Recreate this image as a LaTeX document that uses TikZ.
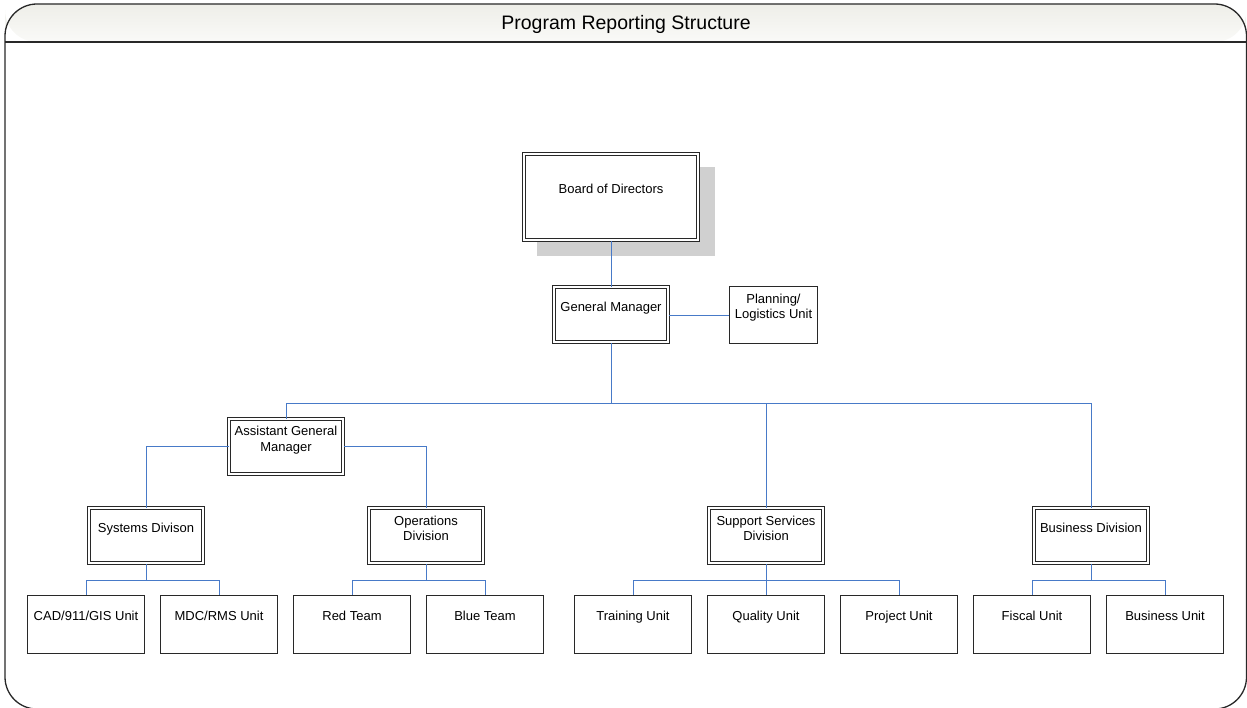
\documentclass[tikz,border=0pt]{standalone}
\usepackage{fontspec}
\setmainfont{Liberation Sans}
\usetikzlibrary{calc}
\definecolor{conn}{RGB}{72,122,200}
\definecolor{frame}{RGB}{40,40,40}
\definecolor{shadowgray}{RGB}{208,208,208}
\definecolor{headtop}{RGB}{238,238,232}
\definecolor{headbot}{RGB}{250,250,248}
\begin{document}
\begin{tikzpicture}[x=1pt,y=-1pt,
  dblbox/.style={draw=frame, fill=white, double=white, double distance=2pt, line width=1pt,
     minimum width=114pt, minimum height=55pt, inner sep=0pt},
  sglbox/.style={draw=frame, fill=white, line width=1.1pt, minimum width=117pt, minimum height=58pt, inner sep=0pt},
  txt/.style={inner sep=0pt, font=\fontsize{13}{15.5}\selectfont, align=center},
  link/.style={draw=conn, line width=1.45pt, transform canvas={xshift=0.5pt, yshift=-0.5pt}}
]
\useasboundingbox (0,0) rectangle (1247,708);
% frame
\shade[top color=headtop, bottom color=headbot, rounded corners=32pt]
  (5,42) -- (5,4) -- (1246.5,4) -- (1246.5,42) -- cycle;
\draw[frame, line width=1.3pt, rounded corners=32pt]
  (5,709) -- (5,4) -- (1246.5,4) -- (1246.5,709) -- cycle;
\draw[frame, line width=1.3pt] (5,42) -- (1246.5,42);
\node[txt, font=\fontsize{19.5}{22}\selectfont, text height=14pt, text depth=0pt] (title) at (626,22.5) {Program Reporting Structure};

% shadow of board
\fill[shadowgray] (537,167) rectangle (715,256);

% boxes
\node[dblbox, minimum width=174pt, minimum height=86pt] (board) at (611,197) {};
\node[dblbox] (gm) at (611,315) {};
\node[sglbox, minimum width=88pt, minimum height=57pt] (plan) at (773.5,315) {};
\node[dblbox] (agm) at (286,446) {};
\node[dblbox] (sys) at (146,535.5) {};
\node[dblbox] (ops) at (426,535.5) {};
\node[dblbox] (sup) at (766,535.5) {};
\node[dblbox] (bus) at (1091,535.5) {};

\node[sglbox] (cad) at (86,624.5) {};
\node[sglbox] (mdc) at (219,624.5) {};
\node[sglbox] (red) at (352,624.5) {};
\node[sglbox] (blue) at (485,624.5) {};
\node[sglbox] (train) at (633,624.5) {};
\node[sglbox] (qual) at (766,624.5) {};
\node[sglbox] (proj) at (899,624.5) {};
\node[sglbox] (fisc) at (1032,624.5) {};
\node[sglbox] (busu) at (1165,624.5) {};

% texts
\begin{scope}[every node/.append style={txt, text height=9.5pt, text depth=2.5pt}]
\node (t-board) at (611,189.7) {Board of Directors};
\node (t-gm) at (611,307.7) {General Manager};
\node (t-sys) at (146,528.7) {Systems Divison};
\node (t-bus) at (1091,528.7) {Business Division};
\node (t-cad) at (86,616.7) {CAD/911/GIS Unit};
\node (t-mdc) at (219,616.7) {MDC/RMS Unit};
\node (t-red) at (352,616.7) {Red Team};
\node (t-blue) at (485,616.7) {Blue Team};
\node (t-train) at (633,616.7) {Training Unit};
\node (t-qual) at (766,616.7) {Quality Unit};
\node (t-proj) at (899,616.7) {Project Unit};
\node (t-fisc) at (1032,616.7) {Fiscal Unit};
\node (t-busu) at (1165,616.7) {Business Unit};
\end{scope}
\node[txt] (t-plan) at (773.5,307.5) {Planning/\\Logistics Unit};
\node[txt] (t-agm) at (286,440) {Assistant General\\Manager};
\node[txt] (t-ops) at (426,528.5) {Operations\\Division};
\node[txt] (t-sup) at (766,528.5) {Support Services\\Division};

% connectors
\coordinate (b1) at (611,403);
\path[link] (board.south) -- (gm.north);
\path[link] (gm.east) -- (gm.east -| plan.west);
\path[link] (gm.south) -- (b1);
\path[link] (b1) -| (agm.north);
\path[link] (b1) -| (sup.north);
\path[link] (b1) -| (bus.north);
\path[link] (agm.west) -| (sys.north);
\path[link] (agm.east) -| (ops.north);

\coordinate (c-sys) at (146,580);
\coordinate (c-ops) at (426,580);
\coordinate (c-sup) at (766,580);
\coordinate (c-bus) at (1091,580);
\path[link] (sys.south) -- (c-sys);
\path[link] (c-sys) -| (cad.north);
\path[link] (c-sys) -| (mdc.north);
\path[link] (ops.south) -- (c-ops);
\path[link] (c-ops) -| (red.north);
\path[link] (c-ops) -| (blue.north);
\path[link] (sup.south) -- (qual.north);
\path[link] (c-sup) -| (train.north);
\path[link] (c-sup) -| (proj.north);
\path[link] (bus.south) -- (c-bus);
\path[link] (c-bus) -| (fisc.north);
\path[link] (c-bus) -| (busu.north);
\end{tikzpicture}
\end{document}
